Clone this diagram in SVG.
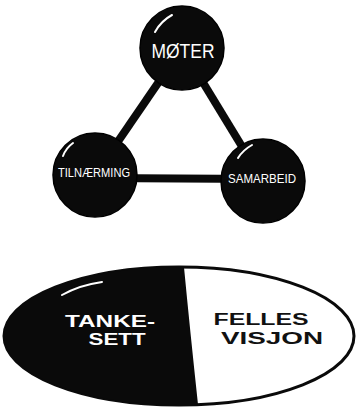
<svg xmlns="http://www.w3.org/2000/svg" width="356" height="407" viewBox="0 0 356 407">
<style>
.ball{fill:#0a0a0a;stroke:#000;stroke-width:1.5}
.hl{fill:none;stroke:#fff;stroke-width:2;stroke-linecap:round}
.edge{stroke:#0a0a0a;stroke-width:8;stroke-linecap:butt}
.lw{font-family:"Liberation Sans",Arial,sans-serif;fill:#fff;text-anchor:middle}
.lb{font-family:"Liberation Sans",Arial,sans-serif;fill:#111;font-weight:bold;text-anchor:middle}
.bold{font-weight:bold}
</style>
<rect width="356" height="407" fill="#fff"/>
<g id="connectors">
<line class="edge" x1="182" y1="48" x2="95" y2="175"/>
<line class="edge" x1="182" y1="48" x2="263" y2="181"/>
<line class="edge" x1="95" y1="178" x2="263" y2="179"/>
</g>
<g id="moter">
<circle class="ball" cx="182" cy="48" r="42"/>
<path class="hl" d="M155 32 Q161 21 172 15"/>
<text class="lw" x="183" y="58" font-size="20" textLength="63" lengthAdjust="spacingAndGlyphs">MØTER</text>
</g>
<g id="tilnaerming">
<circle class="ball" cx="95" cy="175" r="42"/>
<path class="hl" d="M63 156 Q66 148 73 143"/>
<text class="lw" x="94" y="177" font-size="13" textLength="72" lengthAdjust="spacingAndGlyphs">TILNÆRMING</text>
</g>
<g id="samarbeid">
<circle class="ball" cx="263" cy="181" r="42"/>
<path class="hl" d="M238 158 Q243 150 252 145"/>
<text class="lw" x="262" y="183" font-size="13" textLength="68" lengthAdjust="spacingAndGlyphs">SAMARBEID</text>
</g>
<g id="ellipse">
<ellipse cx="179" cy="336" rx="175" ry="69" fill="#fff" stroke="#0a0a0a" stroke-width="3"/>
<path d="M184 267.2 Q190 330 198 404.5 Q188 405.2 179 405 A175 69 0 0 1 179 267 Q181.5 267 184 267.2 Z" fill="#0a0a0a"/>
<path class="hl" d="M62 295 Q80 285 102 282" stroke-width="2.5"/>
</g>
<g id="tankesett">
<text class="lw bold" x="110" y="327" font-size="16" textLength="90" lengthAdjust="spacingAndGlyphs">TANKE-</text>
<text class="lw bold" x="117" y="345" font-size="16" textLength="57" lengthAdjust="spacingAndGlyphs">SETT</text>
</g>
<g id="felles-visjon">
<text class="lb" x="261" y="325" font-size="16" textLength="95" lengthAdjust="spacingAndGlyphs">FELLES</text>
<text class="lb" x="272" y="344" font-size="16" textLength="102" lengthAdjust="spacingAndGlyphs">VISJON</text>
</g>
</svg>
